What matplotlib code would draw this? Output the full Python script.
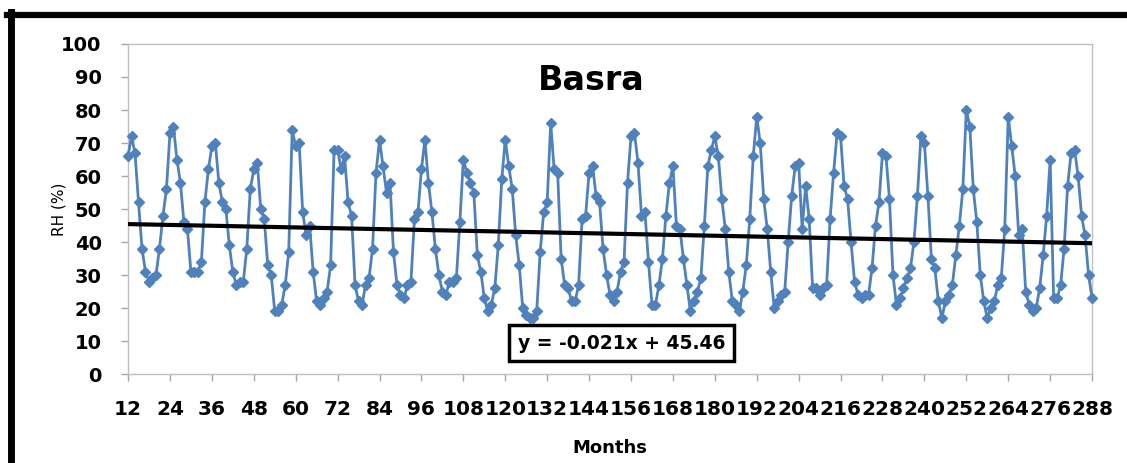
import numpy as np
import matplotlib
matplotlib.use("Agg")
import matplotlib.pyplot as plt
from matplotlib.lines import Line2D

# monthly relative humidity, months 12..288 (one row = 12 months)
rh = [
    66, 72, 67, 52, 38, 31, 28, 29, 30, 38, 48, 56,
    73, 75, 65, 58, 46, 44, 31, 31, 31, 34, 52, 62,
    69, 70, 58, 52, 50, 39, 31, 27, 28, 28, 38, 56,
    62, 64, 50, 47, 33, 30, 19, 19, 21, 27, 37, 74,
    69, 70, 49, 42, 45, 31, 22, 21, 23, 25, 33, 68,
    68, 62, 66, 52, 48, 27, 22, 21, 27, 29, 38, 61,
    71, 63, 55, 58, 37, 27, 24, 23, 27, 28, 47, 49,
    62, 71, 58, 49, 38, 30, 25, 24, 28, 28, 29, 46,
    65, 61, 58, 55, 36, 31, 23, 19, 21, 26, 39, 59,
    71, 63, 56, 42, 33, 20, 18, 17, 17, 19, 37, 49,
    52, 76, 62, 61, 35, 27, 26, 22, 22, 27, 47, 48,
    61, 63, 54, 52, 38, 30, 24, 22, 25, 31, 34, 58,
    72, 73, 64, 48, 49, 34, 21, 21, 27, 35, 48, 58,
    63, 45, 44, 35, 27, 19, 22, 25, 29, 45, 63, 68,
    72, 66, 53, 44, 31, 22, 21, 19, 25, 33, 47, 66,
    78, 70, 53, 44, 31, 20, 22, 24, 25, 40, 54, 63,
    64, 44, 57, 47, 26, 26, 24, 26, 27, 47, 61, 73,
    72, 57, 53, 40, 28, 24, 23, 24, 24, 32, 45, 52,
    67, 66, 53, 30, 21, 23, 26, 29, 32, 40, 54, 72,
    70, 54, 35, 32, 22, 17, 22, 24, 27, 36, 45, 56,
    80, 75, 56, 46, 30, 22, 17, 20, 22, 27, 29, 44,
    78, 69, 60, 42, 44, 25, 21, 19, 20, 26, 36, 48,
    65, 23, 23, 27, 38, 57, 67, 68, 60, 48, 42, 30, 23,
]
first_month = 12
months = np.arange(first_month, first_month + len(rh))
xticks = list(range(12, 289, 12))
yticks = list(range(0, 101, 10))

# linear trend printed on the chart (x counts points from 1)
slope = -0.021
intercept = 45.46
eq_text = "y = -0.021x + 45.46"

fig = plt.figure(figsize=(11.27, 4.63), dpi=100)
ax = fig.add_axes([0.1136, 0.192, 0.8554, 0.713])

ax.plot(months, rh, color="#4F81BD", lw=2.0, marker="D", ms=5,
        mec="#4F81BD", mfc="#4F81BD", clip_on=False, zorder=3)

n = np.arange(1, len(rh) + 1)
ax.plot(months, slope * n + intercept, color="black", lw=3.0, zorder=4)

ax.set_xlim(12, 288)
ax.set_ylim(0, 100)
ax.set_xticks(xticks)
ax.set_yticks(yticks)
ax.set_xticklabels([str(t) for t in xticks], fontsize=14.5, fontweight="bold",
                   family="DejaVu Sans")
ax.set_yticklabels([str(t) for t in yticks], fontsize=14, fontweight="bold",
                   family="DejaVu Sans")
ax.tick_params(axis="both", direction="out", color="#A6A6A6", length=5, width=1)
ax.tick_params(axis="x", pad=14)
ax.tick_params(axis="y", pad=14)
for s in ax.spines.values():
    s.set_color("#BFBFBF")
    s.set_linewidth(1)

ax.set_ylabel("RH (%)", fontsize=11, family="DejaVu Sans", labelpad=-4)
ax.set_xlabel("Months", fontsize=13, family="DejaVu Sans", fontweight="bold",
              labelpad=14)

ax.text(0.481, 0.89, "Basra", transform=ax.transAxes, ha="center", va="center",
        fontsize=24, fontweight="bold", family="DejaVu Sans")
ax.text(0.512, 0.094, eq_text, transform=ax.transAxes, ha="center", va="center",
        fontsize=13.5, fontweight="bold", family="DejaVu Sans", zorder=5,
        bbox=dict(boxstyle="square,pad=0.45", fc="white", ec="black", lw=2.5))

# thick black frame around the figure panel
W, H = 1127, 463
fig.add_artist(Line2D([7 / W, 1], [1 - 14.5 / H, 1 - 14.5 / H], color="black",
                      lw=4.5, transform=fig.transFigure))
fig.add_artist(Line2D([11 / W, 11 / W], [0, 1 - 12 / H], color="black",
                      lw=5, transform=fig.transFigure))

fig.savefig("out.png", dpi=100)
